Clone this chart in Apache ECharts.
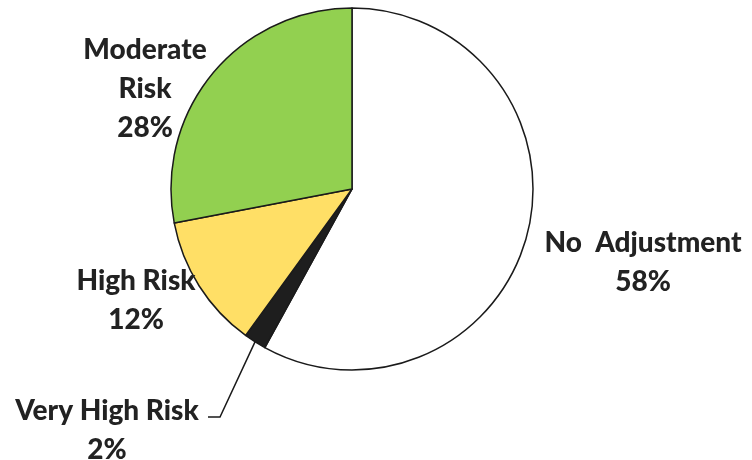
<!DOCTYPE html>
<html><head><meta charset="utf-8">
<script src="https://cdn.jsdelivr.net/npm/echarts@6/dist/echarts.min.js"></script>
<style>html,body{margin:0;padding:0;background:#fff}#c{width:752px;height:460px}</style>
</head><body><div id="c"></div>
<script>
const categories = ['No Adjustment', 'Very High Risk', 'High Risk', 'Moderate Risk'];
const labelTexts = ['No  Adjustment', 'Very High Risk', 'High Risk', 'Moderate\nRisk'];
const values = [58, 2, 12, 28];
const colors = ['#ffffff', '#1e1e1e', '#ffdf66', '#92d050'];
const labelPos = [[643, 262], [107, 430], [136, 300], [145, 89]];

const chart = echarts.init(document.getElementById('c'));
chart.setOption({
  animation: false,
  series: [{
    type: 'pie',
    center: [352, 189],
    radius: 181,
    startAngle: 90,
    clockwise: true,
    data: categories.map((n, i) => ({
      name: n, value: values[i],
      itemStyle: { color: colors[i] },
      labelLine: { show: i === 1 }
    })),
    itemStyle: { borderColor: '#1a1a1a', borderWidth: 1.5 },
    label: {
      show: true,
      position: 'outside',
      formatter: p => labelTexts[p.dataIndex] + '\n' + values[p.dataIndex] + '%',
      fontFamily: 'Lato',
      fontWeight: 900,
      fontSize: 28,
      lineHeight: 39,
      color: '#222',
      align: 'center',
      overflow: 'none',
      width: 300
    },
    labelLine: { lineStyle: { color: '#1a1a1a', width: 1.5 } },
    labelLayout: function (p) {
      const i = p.dataIndex;
      const r = { x: labelPos[i][0], y: labelPos[i][1], align: 'center', verticalAlign: 'middle' };
      if (i === 1 && p.labelLinePoints) {
        const s = p.labelLinePoints[0];
        r.labelLinePoints = [s, [220, 417], [208, 417]];
      }
      return r;
    }
  }]
});
</script></body></html>
